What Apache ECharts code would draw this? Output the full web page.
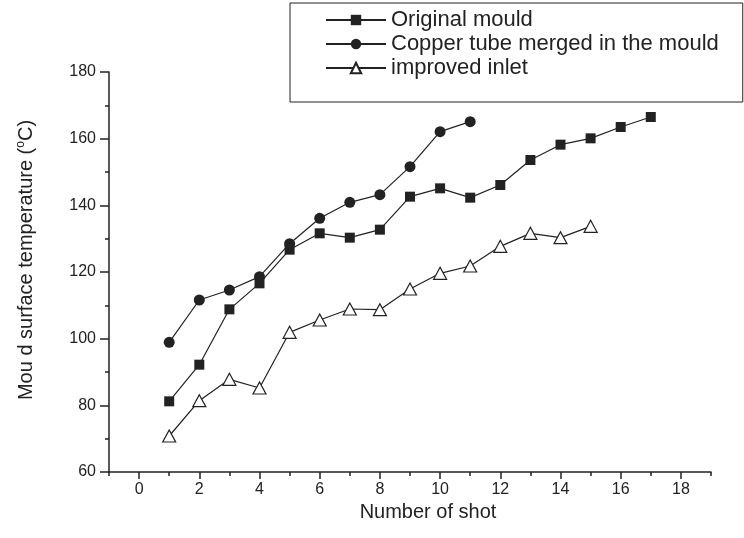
<!DOCTYPE html>
<html>
<head>
<meta charset="utf-8">
<script src="https://cdn.jsdelivr.net/npm/echarts@6/dist/echarts.min.js"></script>
<style>
  html, body { margin: 0; padding: 0; background: #fff; }
  #chart { width: 744px; height: 538px; }
</style>
</head>
<body>
<div id="chart"></div>
<script>
// Shot numbers and measured mould surface temperatures (°C)
const shotsOriginal = [1, 2, 3, 4, 5, 6, 7, 8, 9, 10, 11, 12, 13, 14, 15, 16, 17];
const tempOriginal = [81.2, 92.2, 108.8, 116.6, 126.7, 131.6, 130.3, 132.7, 142.6, 145.1, 142.3, 146.1, 153.6, 158.2, 160.1, 163.5, 166.5];

const shotsCopper = [1, 2, 3, 4, 5, 6, 7, 8, 9, 10, 11];
const tempCopper = [98.9, 111.6, 114.6, 118.6, 128.5, 136.1, 140.9, 143.2, 151.6, 162.1, 165.1];

const shotsInlet = [1, 2, 3, 4, 5, 6, 7, 8, 9, 10, 11, 12, 13, 14, 15];
const tempInlet = [70.8, 81.4, 87.8, 85.2, 101.9, 105.6, 108.9, 108.7, 114.9, 119.6, 121.8, 127.7, 131.6, 130.3, 133.7];

const seriesNames = ['Original mould', 'Copper tube merged in the mould', 'improved inlet'];

// Axis ticks
const xMajorTicks = [0, 2, 4, 6, 8, 10, 12, 14, 16, 18];
const xMinorTicks = [-1, 1, 3, 5, 7, 9, 11, 13, 15, 17, 19];

const ink = '#222';
const font = 'Liberation Sans, Arial, sans-serif';

function pairs(xs, ys) {
  return xs.map((x, i) => [x, ys[i]]);
}

const chart = echarts.init(document.getElementById('chart'), null, { renderer: 'canvas' });

const baseX = {
  type: 'value',
  min: -1,
  max: 19,
  position: 'bottom',
  splitLine: { show: false }
};

chart.setOption({
  animation: false,
  backgroundColor: '#fff',
  grid: { left: 109, right: 33, top: 72, bottom: 66, containLabel: false },
  legend: {
    orient: 'vertical',
    left: 290,
    top: 3,
    padding: [6, 24, 23, 35],
    itemGap: 2,
    itemWidth: 60,
    itemHeight: 13,
    borderColor: '#222',
    borderWidth: 1,
    textStyle: { fontFamily: font, fontSize: 22, color: ink },
    data: seriesNames
  },
  xAxis: [
    Object.assign({}, baseX, {
      name: 'Number of shot',
      nameLocation: 'middle',
      nameGap: 25,
      nameTextStyle: { fontFamily: font, fontSize: 20, color: ink, padding: [0, 0, 0, 36] },
      axisLine: { show: true, onZero: false, lineStyle: { color: ink, width: 1.5 } },
      axisTick: { show: true, inside: false, length: 7, customValues: xMajorTicks, lineStyle: { color: ink, width: 1.5 } },
      axisLabel: { fontFamily: font, fontSize: 16, color: ink, margin: 10, customValues: xMajorTicks }
    }),
    Object.assign({}, baseX, {
      axisLine: { show: false, onZero: false },
      axisTick: { show: true, inside: false, length: 4, customValues: xMinorTicks, lineStyle: { color: ink, width: 1.5 } },
      axisLabel: { show: false }
    })
  ],
  yAxis: {
    type: 'value',
    min: 60,
    max: 180,
    interval: 20,
    name: '{a|Mou d surface temperature (}{s|o}{a|C)}',
    nameLocation: 'middle',
    nameRotate: 90,
    nameGap: 72,
    nameTextStyle: {
      padding: [0, 0, 0, 24],
      rich: {
        a: { fontFamily: font, fontSize: 20, color: ink },
        s: { fontFamily: font, fontSize: 12, color: ink, padding: [0, 0, 10, 0] }
      }
    },
    splitLine: { show: false },
    axisLine: { show: true, onZero: false, lineStyle: { color: ink, width: 1.5 } },
    axisTick: { show: true, inside: false, length: 9, lineStyle: { color: ink, width: 1.5 } },
    minorTick: { show: true, splitNumber: 2, length: 4, lineStyle: { color: ink, width: 1.5 } },
    axisLabel: { fontFamily: font, fontSize: 16, color: ink, margin: 13 }
  },
  series: [
    {
      name: seriesNames[0],
      type: 'line',
      xAxisIndex: 0,
      data: pairs(shotsOriginal, tempOriginal),
      symbol: 'rect',
      symbolSize: 10,
      showAllSymbol: true,
      lineStyle: { color: ink, width: 1.2 },
      itemStyle: { color: ink }
    },
    {
      name: seriesNames[1],
      type: 'line',
      xAxisIndex: 0,
      data: pairs(shotsCopper, tempCopper),
      symbol: 'circle',
      symbolSize: 11,
      showAllSymbol: true,
      lineStyle: { color: ink, width: 1.2 },
      itemStyle: { color: ink }
    },
    {
      name: seriesNames[2],
      type: 'line',
      xAxisIndex: 0,
      data: pairs(shotsInlet, tempInlet),
      symbol: 'triangle',
      symbolSize: [13, 12],
      showAllSymbol: true,
      lineStyle: { color: ink, width: 1.2 },
      itemStyle: { color: '#fff', borderColor: ink, borderWidth: 1.2 }
    }
  ]
});
</script>
</body>
</html>
